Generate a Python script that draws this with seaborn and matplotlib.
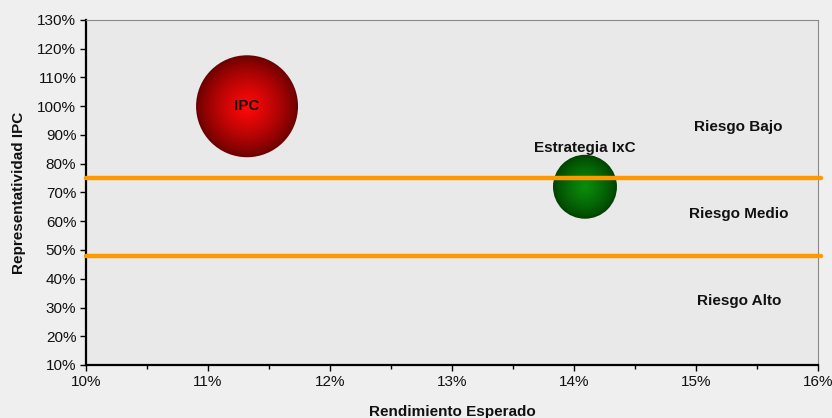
import numpy as np
import pandas as pd
import seaborn as sns
import matplotlib.pyplot as plt
from matplotlib.colors import to_rgb

# datos del grafico
nombres = ['IPC', 'Estrategia IxC']
rendimiento = [11.32, 14.09]        # % rendimiento esperado
representatividad = [100.0, 72.0]   # % representatividad IPC
tamano = [2.55, 1.0]                # tamano relativo de la burbuja
limites_riesgo = [75.0, 48.0]
zonas = ['Riesgo Bajo', 'Riesgo Medio', 'Riesgo Alto']
zonas_y = [92.8, 62.5, 32.3]
zona_x = 15.35
yticks = list(range(10, 131, 10))
xticks = list(range(10, 17))

df = pd.DataFrame({'nombre': nombres, 'rend': rendimiento,
                   'rep': representatividad, 'tam': tamano})

sns.set_style('white')
plt.rcParams['font.family'] = ['Liberation Sans', 'DejaVu Sans']

fig = plt.figure(figsize=(8.32, 4.18), dpi=100, facecolor='#efefef')
ax = fig.add_axes([86 / 832, 1 - 365 / 418, 732 / 832, 345 / 418])
ax.set_facecolor('#e9e9e9')

# burbujas con degradado radial (capas concentricas)
centro = {'IPC': '#ff0808', 'Estrategia IxC': '#0a8c0a'}
borde = {'IPC': '#6a0000', 'Estrategia IxC': '#004200'}
s_min, s_max = 2120, 5390
n = 40
for i, f in enumerate(np.linspace(1, 0.05, n)):
    t = (i / (n - 1)) ** 0.8
    pal = {k: tuple(np.array(to_rgb(borde[k])) * (1 - t) + np.array(to_rgb(centro[k])) * t)
           for k in nombres}
    sns.scatterplot(data=df, x='rend', y='rep', hue='nombre', palette=pal,
                    size='tam', sizes=(s_min * f ** 2, s_max * f ** 2),
                    linewidth=0, legend=False, ax=ax, zorder=2)

# lineas de riesgo
for lim in limites_riesgo:
    ax.axhline(lim, xmin=0, xmax=1.004, color='#ff9900', lw=3.2, zorder=3, clip_on=False)

# etiquetas
offsets = [0, 28]
for nom, x, y, off in zip(nombres, rendimiento, representatividad, offsets):
    ax.annotate(nom, (x, y), xytext=(0, off), textcoords='offset points',
                ha='center', va='center', fontsize=11, fontweight='bold',
                color='#111111', zorder=4)
for z, y in zip(zonas, zonas_y):
    ax.text(zona_x, y, z, ha='center', va='center', fontsize=11,
            fontweight='bold', color='#111111')

ax.set_xlim(10, 16)
ax.set_ylim(10, 130)
ax.set_xticks(xticks)
ax.set_xticklabels([f'{v}%' for v in xticks])
ax.set_xticks([v + 0.5 for v in xticks[:-1]], minor=True)
ax.set_yticks(yticks)
ax.set_yticklabels([f'{v}%' for v in yticks])
ax.tick_params(axis='both', which='major', direction='out', length=4, width=1,
               color='black', labelsize=11, labelcolor='#111111', pad=3)
ax.tick_params(axis='x', which='minor', direction='out', length=3, width=1, color='black')
ax.tick_params(axis='x', which='both', bottom=True)
ax.tick_params(axis='y', which='both', left=True)

for s in ['left', 'bottom']:
    ax.spines[s].set_color('black')
    ax.spines[s].set_linewidth(1.6)
for s in ['top', 'right']:
    ax.spines[s].set_color('#8a8a8a')
    ax.spines[s].set_linewidth(0.8)

ax.set_xlabel('Rendimiento Esperado', fontsize=11, fontweight='bold', color='#111111')
ax.set_ylabel('Representatividad IPC', fontsize=11, fontweight='bold', color='#111111')
ax.xaxis.set_label_coords(0.5, -0.115)
ax.yaxis.set_label_coords(-0.082, 0.5)

fig.savefig('out.png', dpi=100, facecolor=fig.get_facecolor())
